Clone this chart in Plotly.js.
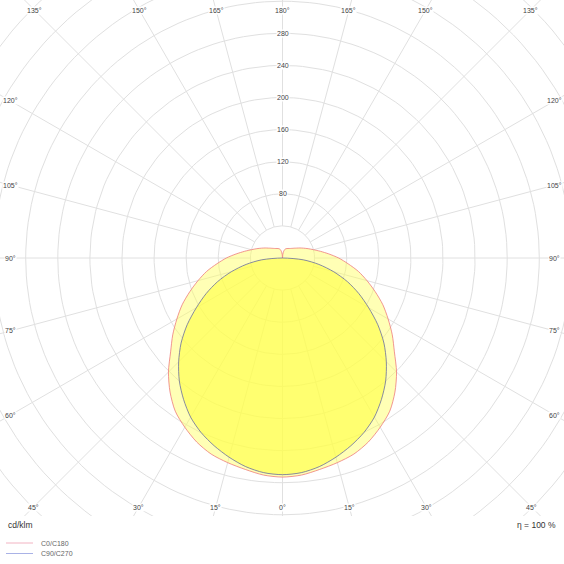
<!DOCTYPE html>
<html>
<head>
<meta charset="utf-8">
<script src="https://cdn.plot.ly/plotly-3.0.1.min.js"></script>
<style>
  html, body { margin: 0; padding: 0; background: #fff; }
  #polar_plot { width: 564px; height: 564px; }
</style>
</head>
<body>
<div id="polar_plot"></div>
<script>
// luminous intensity (cd/klm) per gamma angle
const gammaDeg = [0, 5, 10, 15, 20, 25, 30, 35, 40, 45, 50, 55, 60, 65, 70, 75, 80, 85, 90,
                  95, 100, 105, 110, 115, 120, 125, 130, 135, 140, 145, 150, 155, 160, 165, 170, 175, 180];
const intensityC0C180 = [273, 271.5, 267.5, 264, 260, 253, 243.5, 233, 218, 201, 182, 167, 152, 138, 123, 109, 96, 82, 70,
                         58, 48, 40, 34, 29, 25, 21.5, 19, 17, 15.5, 14.5, 13.7, 13, 12.3, 11, 8.5, 4.5, 0];
const intensityC90C270 = [270, 268.5, 264, 257, 249, 240, 229, 215, 200, 183, 165, 145, 124, 105, 86, 66, 46, 26, 0,
                          0, 0, 0, 0, 0, 0, 0, 0, 0, 0, 0, 0, 0, 0, 0, 0, 0, 0];

// grid
const ringValues = [40, 80, 120, 160, 200, 240, 280, 320, 360, 400, 440, 480];
const ringLabels = [80, 120, 160, 200, 240, 280];
const spokeAngles = [0, 15, 30, 45, 60, 75, 90, 105, 120, 135, 150, 165, 180, 195, 210, 225, 240, 255, 270, 285, 300, 315, 330, 345];
const angleLabels = [0, 15, 30, 45, 60, 75, 90, 105, 120, 135, 150, 165, 180];

const legendNames = ["C0/C180", "C90/C270"];
const legendColors = ["#f2b3c2", "#a9b2e6"];
const unitLabel = "cd/klm";
const efficiencyLabel = "η = 100 %";

// pixels per cd/klm, center of the diagram at (282.5, 258)
const PX = 0.8025;
const CX = 282.5, CY = 258;
const gridColor = "#e0e0e0";
const labelFont = {family: "Liberation Sans, Arial, sans-serif", size: 7, color: "#444"};

const rad = d => d * Math.PI / 180;

// closed outline: one half plane on the right (gamma 180 -> 0), the other on the left (0 -> 180)
function outline(values) {
    var x = [], y = [];
    function add(px, py) {
        // skip repeated points (all the zeros collapse onto the center)
        if (x.length && Math.abs(x[x.length - 1] - px) < 1e-6 && Math.abs(y[y.length - 1] - py) < 1e-6) return;
        x.push(px); y.push(py);
    }
    for (var i = gammaDeg.length - 1; i >= 0; i--) {
        add(values[i] * Math.sin(rad(gammaDeg[i])), -values[i] * Math.cos(rad(gammaDeg[i])));
    }
    for (var i = 1; i < gammaDeg.length; i++) {
        add(-values[i] * Math.sin(rad(gammaDeg[i])), -values[i] * Math.cos(rad(gammaDeg[i])));
    }
    return {x: x, y: y};
}

// where a spoke meets the frame the angle labels sit on
function edgePoint(dx, dy) {
    const W = 272, Htop = 248, Hbot = 249;
    var tx = Math.abs(dx) > 1e-9 ? W / Math.abs(dx) : Infinity;
    var ty = dy > 1e-9 ? Htop / dy : (dy < -1e-9 ? Hbot / -dy : Infinity);
    var t = Math.min(tx, ty);
    return [dx * t / PX, dy * t / PX];
}

// grid as one line trace: rings then spokes, separated by gaps
var gridX = [], gridY = [];
ringValues.forEach(r => {
    for (var a = 0; a <= 360; a += 2) {
        gridX.push(r * Math.sin(rad(a)));
        gridY.push(-r * Math.cos(rad(a)));
    }
    gridX.push(null); gridY.push(null);
});
spokeAngles.forEach(a => {
    var dx = Math.sin(rad(a)), dy = -Math.cos(rad(a));
    gridX.push(ringValues[0] * dx, 600 * dx, null);
    gridY.push(ringValues[0] * dy, 600 * dy, null);
});

var outerLine = outline(intensityC0C180);
var innerLine = outline(intensityC90C270);

var data = [
    {x: gridX, y: gridY, type: "scatter", mode: "lines", line: {color: gridColor, width: 1},
     showlegend: false, hoverinfo: "skip", connectgaps: false},
    {x: outerLine.x, y: outerLine.y, type: "scatter", mode: "lines", fill: "toself",
     fillcolor: "rgba(255,255,90,0.45)", line: {color: "rgba(238,125,125,0.8)", width: 1, shape: "spline", smoothing: 0.8},
     name: legendNames[0], showlegend: false, hoverinfo: "skip"},
    {x: innerLine.x, y: innerLine.y, type: "scatter", mode: "lines", fill: "toself",
     fillcolor: "rgba(255,255,70,0.62)", line: {color: "rgba(95,100,160,0.75)", width: 1, shape: "spline", smoothing: 0.8},
     name: legendNames[1], showlegend: false, hoverinfo: "skip"}
];

var shapes = [];
var annotations = [];
ringLabels.forEach(v => {
    annotations.push({xref: "x", yref: "y", x: 0, y: v, text: String(v), showarrow: false,
                      font: labelFont, bgcolor: "#fff", borderpad: 0});
});
angleLabels.forEach(a => {
    var sides = (a === 0 || a === 180) ? [1] : [-1, 1];
    sides.forEach(s => {
        var p = edgePoint(s * Math.sin(rad(a)), -Math.cos(rad(a)));
        annotations.push({xref: "x", yref: "y", x: p[0], y: p[1], text: a + "°", showarrow: false,
                          font: labelFont, bgcolor: "#fff", borderpad: 0});
    });
});

// footer: unit, efficiency, legend
const paperY = py => 1 - py / 564;
annotations.push({xref: "paper", yref: "paper", x: 6 / 564, y: paperY(525), xanchor: "left", yanchor: "middle",
                  text: unitLabel, showarrow: false, font: {family: "Liberation Sans, Arial, sans-serif", size: 8.5, color: "#333"}});
annotations.push({xref: "paper", yref: "paper", x: 558 / 564, y: paperY(525), xanchor: "right", yanchor: "middle",
                  text: efficiencyLabel, showarrow: false, font: {family: "Liberation Sans, Arial, sans-serif", size: 8.5, color: "#333"}});
legendNames.forEach((name, i) => {
    var yy = paperY(543 + i * 10.5);
    shapes.push({type: "line", xref: "paper", yref: "paper", x0: 6 / 564, x1: 33 / 564, y0: yy, y1: yy,
                 line: {color: legendColors[i], width: 1}});
    annotations.push({xref: "paper", yref: "paper", x: 39 / 564, y: yy, xanchor: "left", yanchor: "middle",
                      text: name, showarrow: false, font: {family: "Liberation Sans, Arial, sans-serif", size: 7, color: "#666"}});
});

const layout = {
    width: 564, height: 564,
    margin: {l: 0, r: 0, t: 0, b: 0},
    paper_bgcolor: "#fff", plot_bgcolor: "#fff",
    showlegend: false,
    xaxis: {range: [-CX / PX, (564 - CX) / PX], visible: false, fixedrange: true},
    yaxis: {range: [-CY / PX, CY / PX], domain: [1 - 2 * CY / 564, 1], visible: false, fixedrange: true},
    shapes: shapes,
    annotations: annotations
};

Plotly.newPlot("polar_plot", data, layout, {displayModeBar: false, staticPlot: true});
</script>
</body>
</html>
